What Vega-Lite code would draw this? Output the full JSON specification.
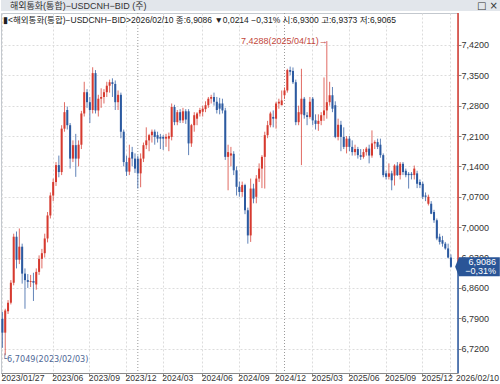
{
"$schema": "https://vega.github.io/schema/vega-lite/v6.json",
"padding": 0,
"spacing": 0,
"background": "white",
"config": {"view": {"stroke": null}, "font": "Liberation Sans", "concat": {"spacing": 0}, "axis": {"labelOverlap": false}, "axisY": {"labelOverlap": false}, "axisRight": {"labelOverlap": false}, "axisQuantitative": {"labelOverlap": false}},
"datasets": {
"c": [
{"d":"2023/01/27","o":6.789,"h":6.805,"l":6.722,"c":6.757},
{"d":"2023/02/03","o":6.757,"h":6.812,"l":6.7049,"c":6.808},
{"d":"2023/02/10","o":6.806,"h":6.832,"l":6.800,"c":6.826},
{"d":"2023/02/17","o":6.826,"h":6.878,"l":6.822,"c":6.872},
{"d":"2023/02/24","o":6.872,"h":6.985,"l":6.866,"c":6.978},
{"d":"2023/03/03","o":6.978,"h":6.990,"l":6.905,"c":6.925},
{"d":"2023/03/10","o":6.925,"h":6.997,"l":6.915,"c":6.955},
{"d":"2023/03/17","o":6.955,"h":6.962,"l":6.870,"c":6.893},
{"d":"2023/03/24","o":6.893,"h":6.905,"l":6.812,"c":6.878},
{"d":"2023/03/31","o":6.878,"h":6.892,"l":6.860,"c":6.874},
{"d":"2023/04/07","o":6.874,"h":6.890,"l":6.862,"c":6.876},
{"d":"2023/04/14","o":6.876,"h":6.895,"l":6.830,"c":6.872},
{"d":"2023/04/21","o":6.868,"h":6.905,"l":6.856,"c":6.897},
{"d":"2023/04/28","o":6.897,"h":6.935,"l":6.890,"c":6.927},
{"d":"2023/05/05","o":6.927,"h":6.950,"l":6.905,"c":6.940},
{"d":"2023/05/12","o":6.940,"h":6.985,"l":6.930,"c":6.974},
{"d":"2023/05/19","o":6.974,"h":7.035,"l":6.965,"c":7.027},
{"d":"2023/05/26","o":7.027,"h":7.080,"l":7.020,"c":7.073},
{"d":"2023/06/02","o":7.073,"h":7.112,"l":7.060,"c":7.104},
{"d":"2023/06/09","o":7.104,"h":7.150,"l":7.095,"c":7.143},
{"d":"2023/06/16","o":7.143,"h":7.165,"l":7.115,"c":7.127},
{"d":"2023/06/23","o":7.127,"h":7.235,"l":7.120,"c":7.227},
{"d":"2023/06/30","o":7.227,"h":7.288,"l":7.220,"c":7.265},
{"d":"2023/07/07","o":7.270,"h":7.278,"l":7.225,"c":7.235},
{"d":"2023/07/14","o":7.235,"h":7.240,"l":7.135,"c":7.158},
{"d":"2023/07/21","o":7.158,"h":7.200,"l":7.150,"c":7.189},
{"d":"2023/07/28","o":7.189,"h":7.215,"l":7.116,"c":7.158},
{"d":"2023/08/04","o":7.158,"h":7.200,"l":7.140,"c":7.190},
{"d":"2023/08/11","o":7.190,"h":7.268,"l":7.180,"c":7.262},
{"d":"2023/08/18","o":7.262,"h":7.335,"l":7.255,"c":7.311},
{"d":"2023/08/25","o":7.311,"h":7.318,"l":7.275,"c":7.288},
{"d":"2023/09/01","o":7.288,"h":7.300,"l":7.240,"c":7.270},
{"d":"2023/09/08","o":7.270,"h":7.3685,"l":7.262,"c":7.355},
{"d":"2023/09/15","o":7.355,"h":7.362,"l":7.262,"c":7.269},
{"d":"2023/09/22","o":7.269,"h":7.305,"l":7.255,"c":7.296},
{"d":"2023/09/29","o":7.296,"h":7.320,"l":7.275,"c":7.300},
{"d":"2023/10/06","o":7.300,"h":7.318,"l":7.285,"c":7.311},
{"d":"2023/10/13","o":7.311,"h":7.335,"l":7.300,"c":7.326},
{"d":"2023/10/20","o":7.326,"h":7.340,"l":7.310,"c":7.334},
{"d":"2023/10/27","o":7.334,"h":7.343,"l":7.300,"c":7.330},
{"d":"2023/11/03","o":7.330,"h":7.338,"l":7.270,"c":7.288},
{"d":"2023/11/10","o":7.288,"h":7.315,"l":7.270,"c":7.305},
{"d":"2023/11/17","o":7.305,"h":7.310,"l":7.205,"c":7.220},
{"d":"2023/11/24","o":7.220,"h":7.225,"l":7.140,"c":7.150},
{"d":"2023/12/01","o":7.150,"h":7.165,"l":7.118,"c":7.128},
{"d":"2023/12/08","o":7.128,"h":7.190,"l":7.120,"c":7.160},
{"d":"2023/12/15","o":7.173,"h":7.185,"l":7.140,"c":7.158},
{"d":"2023/12/22","o":7.158,"h":7.170,"l":7.125,"c":7.135},
{"d":"2023/12/29","o":7.158,"h":7.165,"l":7.089,"c":7.124},
{"d":"2024/01/05","o":7.124,"h":7.170,"l":7.092,"c":7.158},
{"d":"2024/01/12","o":7.158,"h":7.195,"l":7.150,"c":7.189},
{"d":"2024/01/19","o":7.189,"h":7.230,"l":7.180,"c":7.200},
{"d":"2024/01/26","o":7.200,"h":7.215,"l":7.175,"c":7.212},
{"d":"2024/02/02","o":7.212,"h":7.225,"l":7.195,"c":7.220},
{"d":"2024/02/09","o":7.220,"h":7.225,"l":7.190,"c":7.208},
{"d":"2024/02/16","o":7.212,"h":7.220,"l":7.195,"c":7.204},
{"d":"2024/02/23","o":7.208,"h":7.215,"l":7.180,"c":7.204},
{"d":"2024/03/01","o":7.208,"h":7.212,"l":7.178,"c":7.204},
{"d":"2024/03/08","o":7.204,"h":7.215,"l":7.185,"c":7.208},
{"d":"2024/03/15","o":7.204,"h":7.218,"l":7.175,"c":7.210},
{"d":"2024/03/22","o":7.208,"h":7.285,"l":7.200,"c":7.277},
{"d":"2024/03/29","o":7.277,"h":7.282,"l":7.235,"c":7.242},
{"d":"2024/04/05","o":7.242,"h":7.270,"l":7.235,"c":7.265},
{"d":"2024/04/12","o":7.265,"h":7.272,"l":7.240,"c":7.246},
{"d":"2024/04/19","o":7.246,"h":7.275,"l":7.240,"c":7.267},
{"d":"2024/04/26","o":7.267,"h":7.272,"l":7.238,"c":7.248},
{"d":"2024/05/03","o":7.267,"h":7.272,"l":7.166,"c":7.193},
{"d":"2024/05/10","o":7.193,"h":7.238,"l":7.185,"c":7.235},
{"d":"2024/05/17","o":7.235,"h":7.265,"l":7.220,"c":7.258},
{"d":"2024/05/24","o":7.250,"h":7.265,"l":7.235,"c":7.262},
{"d":"2024/05/31","o":7.262,"h":7.275,"l":7.255,"c":7.270},
{"d":"2024/06/07","o":7.266,"h":7.280,"l":7.255,"c":7.273},
{"d":"2024/06/14","o":7.272,"h":7.290,"l":7.265,"c":7.281},
{"d":"2024/06/21","o":7.281,"h":7.300,"l":7.275,"c":7.296},
{"d":"2024/06/28","o":7.296,"h":7.305,"l":7.285,"c":7.300},
{"d":"2024/07/05","o":7.300,"h":7.310,"l":7.280,"c":7.289},
{"d":"2024/07/12","o":7.289,"h":7.300,"l":7.262,"c":7.270},
{"d":"2024/07/19","o":7.285,"h":7.298,"l":7.260,"c":7.273},
{"d":"2024/07/26","o":7.285,"h":7.296,"l":7.262,"c":7.269},
{"d":"2024/08/02","o":7.269,"h":7.275,"l":7.155,"c":7.162},
{"d":"2024/08/09","o":7.162,"h":7.190,"l":7.085,"c":7.173},
{"d":"2024/08/16","o":7.165,"h":7.185,"l":7.140,"c":7.170},
{"d":"2024/08/23","o":7.169,"h":7.175,"l":7.120,"c":7.131},
{"d":"2024/08/30","o":7.131,"h":7.140,"l":7.073,"c":7.093},
{"d":"2024/09/06","o":7.093,"h":7.105,"l":7.070,"c":7.081},
{"d":"2024/09/13","o":7.081,"h":7.105,"l":7.070,"c":7.097},
{"d":"2024/09/20","o":7.097,"h":7.100,"l":7.030,"c":7.039},
{"d":"2024/09/27","o":7.039,"h":7.045,"l":6.962,"c":6.981},
{"d":"2024/10/04","o":6.981,"h":7.112,"l":6.966,"c":7.089},
{"d":"2024/10/11","o":7.089,"h":7.100,"l":7.055,"c":7.066},
{"d":"2024/10/18","o":7.070,"h":7.120,"l":7.055,"c":7.112},
{"d":"2024/10/25","o":7.112,"h":7.147,"l":7.104,"c":7.135},
{"d":"2024/11/01","o":7.135,"h":7.166,"l":7.090,"c":7.162},
{"d":"2024/11/08","o":7.162,"h":7.220,"l":7.089,"c":7.212},
{"d":"2024/11/15","o":7.212,"h":7.245,"l":7.205,"c":7.235},
{"d":"2024/11/22","o":7.235,"h":7.266,"l":7.230,"c":7.262},
{"d":"2024/11/29","o":7.254,"h":7.269,"l":7.230,"c":7.250},
{"d":"2024/12/06","o":7.250,"h":7.289,"l":7.227,"c":7.285},
{"d":"2024/12/13","o":7.285,"h":7.296,"l":7.273,"c":7.289},
{"d":"2024/12/20","o":7.281,"h":7.315,"l":7.281,"c":7.292},
{"d":"2024/12/27","o":7.304,"h":7.322,"l":7.295,"c":7.315},
{"d":"2025/01/03","o":7.315,"h":7.365,"l":7.310,"c":7.362},
{"d":"2025/01/10","o":7.362,"h":7.370,"l":7.350,"c":7.358},
{"d":"2025/01/17","o":7.360,"h":7.368,"l":7.330,"c":7.334},
{"d":"2025/01/24","o":7.334,"h":7.340,"l":7.235,"c":7.242},
{"d":"2025/01/31","o":7.242,"h":7.280,"l":7.235,"c":7.265},
{"d":"2025/02/07","o":7.260,"h":7.365,"l":7.143,"c":7.296},
{"d":"2025/02/14","o":7.296,"h":7.300,"l":7.250,"c":7.258},
{"d":"2025/02/21","o":7.258,"h":7.265,"l":7.235,"c":7.254},
{"d":"2025/02/28","o":7.254,"h":7.300,"l":7.250,"c":7.289},
{"d":"2025/03/07","o":7.296,"h":7.300,"l":7.235,"c":7.246},
{"d":"2025/03/14","o":7.246,"h":7.260,"l":7.225,"c":7.238},
{"d":"2025/03/21","o":7.238,"h":7.260,"l":7.222,"c":7.245},
{"d":"2025/03/28","o":7.245,"h":7.265,"l":7.235,"c":7.258},
{"d":"2025/04/04","o":7.258,"h":7.345,"l":7.245,"c":7.269},
{"d":"2025/04/11","o":7.269,"h":7.4288,"l":7.250,"c":7.288},
{"d":"2025/04/18","o":7.288,"h":7.335,"l":7.280,"c":7.304},
{"d":"2025/04/25","o":7.304,"h":7.323,"l":7.265,"c":7.273},
{"d":"2025/05/02","o":7.281,"h":7.290,"l":7.205,"c":7.208},
{"d":"2025/05/09","o":7.208,"h":7.250,"l":7.200,"c":7.236},
{"d":"2025/05/16","o":7.236,"h":7.245,"l":7.175,"c":7.208},
{"d":"2025/05/23","o":7.208,"h":7.230,"l":7.180,"c":7.185},
{"d":"2025/05/30","o":7.185,"h":7.210,"l":7.170,"c":7.204},
{"d":"2025/06/06","o":7.204,"h":7.210,"l":7.175,"c":7.185},
{"d":"2025/06/13","o":7.185,"h":7.200,"l":7.165,"c":7.173},
{"d":"2025/06/20","o":7.173,"h":7.190,"l":7.165,"c":7.180},
{"d":"2025/06/27","o":7.180,"h":7.185,"l":7.158,"c":7.166},
{"d":"2025/07/04","o":7.166,"h":7.180,"l":7.155,"c":7.162},
{"d":"2025/07/11","o":7.162,"h":7.180,"l":7.158,"c":7.173},
{"d":"2025/07/18","o":7.173,"h":7.185,"l":7.165,"c":7.181},
{"d":"2025/07/25","o":7.181,"h":7.190,"l":7.147,"c":7.165},
{"d":"2025/08/01","o":7.165,"h":7.223,"l":7.160,"c":7.193},
{"d":"2025/08/08","o":7.193,"h":7.200,"l":7.180,"c":7.196},
{"d":"2025/08/15","o":7.196,"h":7.204,"l":7.180,"c":7.185},
{"d":"2025/08/22","o":7.190,"h":7.204,"l":7.160,"c":7.166},
{"d":"2025/08/29","o":7.166,"h":7.170,"l":7.115,"c":7.120},
{"d":"2025/09/05","o":7.124,"h":7.130,"l":7.110,"c":7.116},
{"d":"2025/09/12","o":7.116,"h":7.147,"l":7.110,"c":7.124},
{"d":"2025/09/19","o":7.124,"h":7.130,"l":7.085,"c":7.108},
{"d":"2025/09/26","o":7.119,"h":7.145,"l":7.096,"c":7.142},
{"d":"2025/10/03","o":7.142,"h":7.150,"l":7.118,"c":7.120},
{"d":"2025/10/10","o":7.120,"h":7.150,"l":7.110,"c":7.146},
{"d":"2025/10/17","o":7.146,"h":7.150,"l":7.120,"c":7.127},
{"d":"2025/10/24","o":7.130,"h":7.135,"l":7.115,"c":7.120},
{"d":"2025/10/31","o":7.123,"h":7.127,"l":7.089,"c":7.120},
{"d":"2025/11/07","o":7.123,"h":7.127,"l":7.110,"c":7.120},
{"d":"2025/11/14","o":7.120,"h":7.142,"l":7.110,"c":7.135},
{"d":"2025/11/21","o":7.124,"h":7.130,"l":7.090,"c":7.100},
{"d":"2025/11/28","o":7.104,"h":7.110,"l":7.090,"c":7.097},
{"d":"2025/12/05","o":7.100,"h":7.105,"l":7.065,"c":7.070},
{"d":"2025/12/12","o":7.073,"h":7.080,"l":7.060,"c":7.070},
{"d":"2025/12/19","o":7.054,"h":7.075,"l":7.050,"c":7.070},
{"d":"2025/12/26","o":7.054,"h":7.060,"l":7.030,"c":7.031},
{"d":"2026/01/02","o":7.035,"h":7.040,"l":7.010,"c":7.016},
{"d":"2026/01/09","o":7.016,"h":7.020,"l":6.970,"c":6.974},
{"d":"2026/01/16","o":6.978,"h":6.985,"l":6.960,"c":6.966},
{"d":"2026/01/23","o":6.970,"h":6.980,"l":6.955,"c":6.962},
{"d":"2026/01/30","o":6.962,"h":6.966,"l":6.948,"c":6.951},
{"d":"2026/02/06","o":6.951,"h":6.962,"l":6.928,"c":6.930},
{"d":"2026/02/10","o":6.9300,"h":6.9373,"l":6.9065,"c":6.9086}
]
},
"vconcat": [
{
"width": 500,
"height": 11,
"view": {"fill": "#e2e6eb", "stroke": null},
"data": {"values": [{"t": "해외통화(통합)−USDCNH−BID (주)", "k": "l"}, {"t": "□ ×", "k": "r"}]},
"layer": [
{"transform": [{"filter": "datum.k == 'l'"}], "mark": {"type": "text", "align": "left", "baseline": "middle", "dx": 9, "fontSize": 9, "color": "#333333", "font": "Liberation Sans, Noto Sans CJK KR"}, "encoding": {"text": {"field": "t"}, "x": {"value": 0}}},
{"transform": [{"filter": "datum.k == 'r'"}], "mark": {"type": "text", "align": "right", "baseline": "middle", "dx": -3, "fontSize": 10, "color": "#333333", "font": "DejaVu Sans"}, "encoding": {"text": {"field": "t"}, "x": {"value": "width"}}}
]
},
{
"width": 457,
"height": 360,
"view": {"stroke": "#c3c8ce"},
"title": {"text": "▮<해외통화(통합)−USDCNH−BID>2026/02/10 종:6,9086 ▼0,0214 −0,31% 시:6,9300 고:6,9373 저:6,9065", "anchor": "start", "frame": "group", "offset": -12, "dx": 2, "fontSize": 8.5, "fontWeight": "normal", "color": "#222222", "font": "Liberation Sans, Noto Sans CJK KR"},
"encoding": {
"y": {"type": "quantitative",
"scale": {"domain": [6.664, 7.4935], "nice": false, "zero": false},
"axis": {"title": null, "orient": "right", "values": [6.72, 6.79, 6.86, 6.93, 7.0, 7.07, 7.14, 7.21, 7.28, 7.35, 7.42],
"labelExpr": "replace(format(datum.value, '.4f'), '.', ',')", "labelOverlap": false,
"domain": false, "tickSize": 3, "tickColor": "#888888", "labelPadding": 0, "labelFontSize": 9, "labelColor": "#333333",
"grid": true, "gridDash": [2, 2], "gridColor": "#dcdcdc"}}
},
"layer": [
{
"data": {"values": [{"d": "2023/12/29"}, {"d": "2024/12/27"}]},
"mark": {"type": "rule", "color": "#9a9a9a", "strokeDash": [1, 2], "strokeWidth": 1},
"encoding": {"x": {"field": "d", "type": "ordinal"}, "y": null}
},
{
"data": {"name": "c"},
"mark": {"type": "rule", "strokeWidth": 1, "opacity": 0.75},
"encoding": {
"x": {"field": "d", "type": "ordinal",
"scale": {"paddingInner": 0, "paddingOuter": 1.28, "align": 0},
"axis": {"title": null, "values": ["2023/01/27","2023/06/02","2023/09/01","2023/12/01","2024/03/01","2024/06/07","2024/09/06","2024/12/06","2025/03/07","2025/06/06","2025/09/05","2025/12/05","2026/02/10"],
"labelExpr": "(datum.value == '2023/01/27' || datum.value == '2026/02/10') ? datum.value : slice(datum.value, 0, 7)",
"labelAlign": "left", "labelAngle": 0, "labelFontSize": 8.6, "labelColor": "#333333", "labelPadding": 1,
"labelOffset": {"condition": {"test": "datum.value == '2026/02/10'", "value": 5}, "value": -1},
"tickSize": 3, "tickColor": "#888888", "domainColor": "#8a8a8a", "grid": true, "gridDash": [2, 2], "gridColor": "#dcdcdc", "labelOverlap": false, "labelBound": false, "bandPosition": 0.5}},
"y": {"field": "l"},
"y2": {"field": "h"},
"color": {"condition": {"test": "datum.c >= datum.o", "value": "#d63a2f"}, "value": "#2c5aa0"}
}
},
{
"data": {"name": "c"},
"mark": {"type": "bar", "width": {"band": 0.72}, "minBandSize": 1},
"encoding": {
"x": {"field": "d", "type": "ordinal"},
"y": {"field": "o"},
"y2": {"field": "c"},
"color": {"condition": {"test": "datum.c >= datum.o", "value": "#d63a2f"}, "value": "#2c5aa0"}
}
},
{
"data": {"values": [{"p": 6.9086}]},
"mark": {"type": "rule", "color": "#d63a2f", "strokeWidth": 1.5},
"encoding": {"x": {"value": "width"}, "y": {"field": "p"}, "y2": {"datum": 7.4935}}
},
{
"data": {"values": [{"p": 6.9086}]},
"mark": {"type": "rule", "color": "#2c5aa0", "strokeWidth": 1.5},
"encoding": {"x": {"value": "width"}, "y": {"field": "p"}, "y2": {"datum": 6.664}}
},
{
"data": {"values": [{"p": 6.9086}]},
"mark": {"type": "point", "shape": "M-0.3,0L0.1,-1H4.4V1H0.1Z", "size": 361, "filled": true, "color": "#2a5597", "opacity": 1},
"encoding": {"x": {"value": "width"}, "y": {"field": "p"}}
},
{
"data": {"values": [{"p": 6.9086, "t": "6,9086"}]},
"mark": {"type": "text", "align": "right", "baseline": "middle", "dx": 38, "dy": -4.5, "fontSize": 9, "color": "white"},
"encoding": {"x": {"value": "width"}, "y": {"field": "p"}, "text": {"field": "t"}}
},
{
"data": {"values": [{"p": 6.9086, "t": "−0,31%"}]},
"mark": {"type": "text", "align": "right", "baseline": "middle", "dx": 38, "dy": 4.5, "fontSize": 9, "color": "white"},
"encoding": {"x": {"value": "width"}, "y": {"field": "p"}, "text": {"field": "t"}}
},
{
"data": {"values": [{"d": "2025/04/11", "v": 7.4288, "t": "7,4288(2025/04/11)→"}]},
"mark": {"type": "text", "align": "right", "baseline": "middle", "dx": 1, "fontSize": 9, "color": "#c2463b"},
"encoding": {"x": {"field": "d", "type": "ordinal"}, "y": {"field": "v"}, "text": {"field": "t"}}
},
{
"data": {"values": [{"d": "2023/02/03", "v": 6.7049, "t": "└6,7049(2023/02/03)"}]},
"mark": {"type": "text", "align": "left", "baseline": "top", "dx": -3, "dy": 0, "fontSize": 9, "color": "#4f6896", "font": "DejaVu Sans Condensed, Liberation Sans"},
"encoding": {"x": {"field": "d", "type": "ordinal"}, "y": {"field": "v"}, "text": {"field": "t"}}
}
]
}
]
}
